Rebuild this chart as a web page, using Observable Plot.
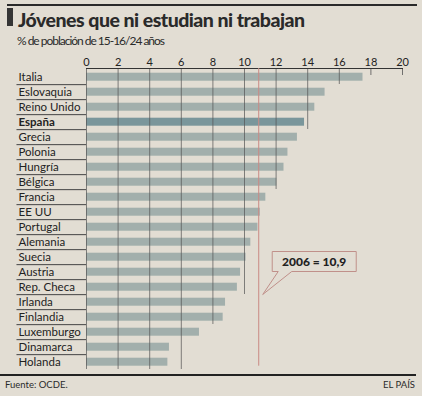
<!DOCTYPE html>
<html><head><meta charset="utf-8">
<script src="https://cdn.jsdelivr.net/npm/d3@7"></script>
<script src="https://cdn.jsdelivr.net/npm/@observablehq/plot@0.6"></script>
<style>
html,body{margin:0;padding:0;background:#e2ddd3;}
#c{position:relative;width:422px;height:396px;overflow:hidden;background:#e2ddd3;font-family:Lato,sans-serif;color:#222;}
#c svg{position:absolute;left:0;top:0;}
.abs{position:absolute;white-space:nowrap;line-height:1;}
</style></head><body>
<div id="c">
  <div class="abs" style="left:7px;top:4px;width:410px;height:2px;background:#2a2a2a"></div>
  <div class="abs" style="left:7px;top:8px;width:6px;height:18px;background:#353535"></div>
  <div class="abs" id="title" style="left:18px;top:10px;font-size:19.5px;font-weight:900;color:#2a2a2a">Jóvenes que ni estudian ni trabajan</div>
  <div class="abs" id="sub" style="left:17px;top:34.5px;font-size:12px;color:#2a2a2a">% de población de 15-16/24 años</div>
  <div class="abs" style="left:0px;top:374px;width:416px;height:1.6px;background:#222"></div>
  <div class="abs" style="left:5px;top:380px;font-size:9.5px;color:#2a2a2a">Fuente: OCDE.</div>
  <div class="abs" style="right:7px;top:380px;font-size:9.5px;color:#2a2a2a">EL PAÍS</div>
</div>
<script>
const countries = ["Italia","Eslovaquia","Reino Unido","España","Grecia","Polonia","Hungría","Bélgica","Francia","EE UU","Portugal","Alemania","Suecia","Austria","Rep. Checa","Irlanda","Finlandia","Luxemburgo","Dinamarca","Holanda"];
const values = [17.5,15.1,14.45,13.8,13.35,12.75,12.5,12.05,11.35,11.0,10.85,10.4,10.1,9.75,9.55,8.8,8.65,7.15,5.25,5.15];
const highlight = "España";
const ticks = [0,2,4,6,8,10,12,14,16,18,20];
const gridTicks = [0,2,4,6,8,10,12,14,16];
const gridLastRow = ["Holanda","Holanda","Holanda","Holanda","Finlandia","Rep. Checa","Bélgica","España","Italia"];
const shortTicks = [18,20];
const refValue = 10.9;
const refLabel = "2006 = 10,9";

const data = countries.map((c,i)=>({country:c, value:values[i]}));
const grid = gridTicks.map((t,k)=>({x:t, last:gridLastRow[k]}));

// fit title / subtitle widths
const title = document.getElementById("title");
const tw = title.getBoundingClientRect().width;
title.style.letterSpacing = ((287 - tw) / (title.textContent.length - 1)) + "px";
const sub = document.getElementById("sub");
const sw = sub.getBoundingClientRect().width;
sub.style.letterSpacing = ((148 - sw) / (sub.textContent.length - 1)) + "px";

const bandH = (396 - 66 - 24.3) / countries.length;

const plot = Plot.plot({
  width: 422, height: 396,
  marginTop: 66, marginBottom: 24.3, marginLeft: 86, marginRight: 20,
  style: {background: "transparent", fontFamily: "Lato, sans-serif", fontSize: "11px", color: "#222", overflow: "visible"},
  x: {domain: [0, 20]},
  y: {domain: countries, padding: 0, axis: null},
  marks: [
    Plot.barX(data.filter(d => d.country !== highlight), {x: "value", y: "country", fill: "#a2afac", insetTop: 3.7, insetBottom: 3.3}),
    Plot.barX(data.filter(d => d.country === highlight), {x: "value", y: "country", fill: "#7a969b", insetTop: 3.7, insetBottom: 3.3}),
    Plot.ruleX(grid, {x: "x", y1: () => countries[0], y2: "last", stroke: "#555", strokeOpacity: 0.8, strokeWidth: 0.9}),
    Plot.ruleX(shortTicks, {x: d => d, y1: () => countries[0], y2: () => countries[0], stroke: "#555", strokeOpacity: 0.8, insetBottom: 9}),
    Plot.ruleY(countries.slice(0, -1), {y: d => d, x1: -4.4, x2: 0, dy: bandH / 2, stroke: "#444"}),
    Plot.frame({anchor: "top", dy: 2, stroke: "#333"}),
    Plot.ruleX([refValue], {x: d => d, stroke: "#c98a84", insetTop: 2, insetBottom: 6}),
    Plot.text(countries.filter(c => c !== highlight), {y: d => d, text: d => d, frameAnchor: "left", textAnchor: "start", dx: -68, fontSize: 11.5, fill: "#222"}),
    Plot.text([highlight], {y: d => d, text: d => d, frameAnchor: "left", textAnchor: "start", dx: -68, fontSize: 11.5, fontWeight: "bold", fill: "#222"}),
    Plot.axisX({anchor: "top", ticks: ticks, tickSize: 0, tickPadding: 1, fontSize: 11, fill: "#222"})
  ]
});
document.getElementById("c").appendChild(plot);

// callout
const xs = plot.scale("x"), ys = plot.scale("y");
const lx = xs.apply(refValue);
const rowTop = ys.apply("Suecia");
const svg = d3.select(plot);
const g = svg.append("g");
const bx0 = lx + 14, bx1 = lx + 98, by0 = rowTop + 2.5, by1 = rowTop + 22.5;
g.append("path")
  .attr("d", `M${bx0},${by0}H${bx1}V${by1}H${lx+33.5}L${lx+4.5},${by1+23}L${lx+20},${by1}H${bx0}Z`)
  .attr("fill", "#e2ddd3").attr("stroke", "#c0908a").attr("stroke-width", 1);
g.append("text").attr("x", (bx0+bx1)/2).attr("y", (by0+by1)/2).attr("dy", "0.35em")
  .attr("text-anchor", "middle").attr("font-size", 12).attr("font-weight", 900)
  .attr("font-family", "Lato, sans-serif").attr("fill", "#222").text(refLabel);
</script>
</body></html>
